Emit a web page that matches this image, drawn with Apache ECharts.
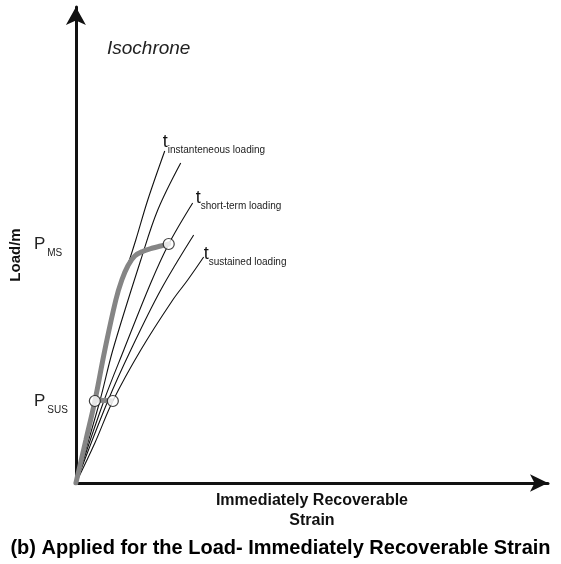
<!DOCTYPE html>
<html><head><meta charset="utf-8">
<script src="https://cdn.jsdelivr.net/npm/echarts@6/dist/echarts.min.js"></script>
<style>html,body{margin:0;padding:0;background:#fff}#c{width:561px;height:564px}</style>
</head><body><div id="c"></div>
<script>
// Data (strain on x, load on y; schematic units)
const curveInstant   = [[0,0],[19,82],[29,133],[40,183],[52,218],[60,243],[72,283],[89,332]];
const curveSecond    = [[0,0],[24,82],[37,133],[65,223],[82,273],[105,320]];
const curveShortTerm = [[0,0],[28,82],[48,133],[75,200],[93,239],[117,280]];
const curveFourth    = [[0,0],[32,82],[55,133],[85,193],[118,248]];
const curveSustained = [[0,0],[19,40],[37,82],[65,133],[97,183],[112,203],[128,226]];
const loadingPath    = [[0,0],[10,43],[19,82],[29,133],[40,183],[46,203],[52,217],[59,227],[68,232],[77,235],[85,237],[93,239]];
const creepPath      = [[19,83],[37,82]];
const markerPoints   = [[19,82],[37,82],[93,239]];
const loadLevels     = [82, 239];
const loadLevelNames = ['SUS', 'MS'];
const curveLabels    = ['instanteneous loading', 'short-term loading', 'sustained loading'];

const FONT = 'Liberation Sans, Arial, sans-serif';
const chart = echarts.init(document.getElementById('c'), null, {renderer: 'canvas'});

function blackCurve(data, labelText, offset) {
  const s = {
    type: 'line', data: data, smooth: 0.35, showSymbol: false, symbol: 'none',
    lineStyle: {color: '#111', width: 1.1}, silent: true, z: 2
  };
  if (labelText) {
    s.endLabel = {
      show: true, distance: 0, offset: offset,
      formatter: '{t|t}{s|' + labelText + '}',
      rich: {
        t: {fontSize: 18, fontFamily: FONT, color: '#111', verticalAlign: 'bottom', lineHeight: 18},
        s: {fontSize: 10, fontFamily: FONT, color: '#222', verticalAlign: 'bottom', lineHeight: 12, padding: [0,0,-4,0]}
      }
    };
  }
  return s;
}

const option = {
  animation: false,
  backgroundColor: '#fff',
  title: [
    {text: 'Isochrone', left: 102, top: 34,
     textStyle: {fontFamily: FONT, fontStyle: 'italic', fontWeight: 'normal', fontSize: 19, color: '#222'}},
    {text: '(b) Applied for the Load- Immediately Recoverable Strain', left: 'center', top: 533,
     textStyle: {fontFamily: FONT, fontWeight: 'bold', fontSize: 20, color: '#000'}}
  ],
  grid: {left: 75, right: 13, top: 7, bottom: 81},
  xAxis: {
    type: 'value', min: 0, max: 473,
    name: 'Immediately Recoverable\nStrain', nameLocation: 'middle', nameGap: 8,
    nameTextStyle: {fontFamily: FONT, fontWeight: 'bold', fontSize: 16, color: '#111', lineHeight: 20},
    axisLine: {show: true, symbol: ['none', 'arrow'], symbolSize: [13, 18], lineStyle: {color: '#111', width: 3}},
    axisTick: {show: false}, axisLabel: {show: false}, splitLine: {show: false}
  },
  yAxis: {
    type: 'value', min: 0, max: 476,
    name: 'Load/m', nameLocation: 'middle', nameGap: 44, nameRotate: 90,
    nameTextStyle: {fontFamily: FONT, fontWeight: 'bold', fontSize: 15, color: '#111', padding: [0, 20, 0, 0]},
    axisLine: {show: true, symbol: ['none', 'arrow'], symbolSize: [15, 18], lineStyle: {color: '#111', width: 3}},
    axisTick: {show: false}, splitLine: {show: false},
    axisLabel: {
      show: true, customValues: loadLevels, align: 'left', margin: 42,
      formatter: function (v) {
        const i = loadLevels.indexOf(v);
        return '{p|P}{s|' + loadLevelNames[i] + '}';
      },
      rich: {
        p: {fontSize: 17, fontFamily: FONT, color: '#222', verticalAlign: 'bottom', lineHeight: 18},
        s: {fontSize: 10, fontFamily: FONT, color: '#222', verticalAlign: 'bottom', lineHeight: 12, padding: [0,0,-5,2]}
      }
    }
  },
  series: [
    blackCurve(curveInstant, curveLabels[0], [-2, -9]),
    blackCurve(curveSecond),
    blackCurve(curveShortTerm, curveLabels[1], [3, -5]),
    blackCurve(curveFourth),
    blackCurve(curveSustained, curveLabels[2], [0, -3]),
    {type: 'line', data: loadingPath, smooth: 0.4, showSymbol: false, symbol: 'none', silent: true, z: 3,
     lineStyle: {color: '#858585', width: 5, cap: 'round'}},
    {type: 'line', data: creepPath, showSymbol: false, symbol: 'none', silent: true, z: 3,
     lineStyle: {color: '#858585', width: 5}},
    {type: 'scatter', data: markerPoints, symbol: 'circle', symbolSize: 11, silent: true, z: 5,
     itemStyle: {color: '#fff', borderColor: '#111', borderWidth: 1.2}}
  ]
};
chart.setOption(option);
</script>
</body></html>
